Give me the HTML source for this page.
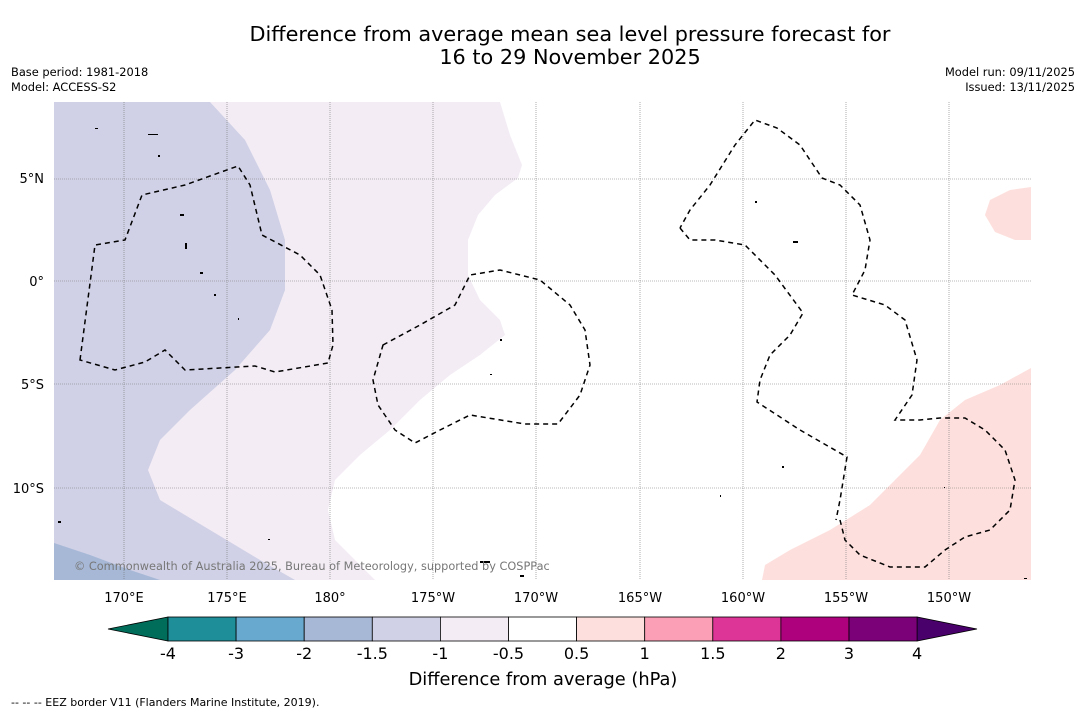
<!DOCTYPE html>
<html><head><meta charset="utf-8"><style>
body{margin:0;background:#fff;font-family:"Liberation Sans","DejaVu Sans",sans-serif;}
svg text{font-family:"DejaVu Sans","Liberation Sans",sans-serif;}
</style></head><body>
<svg width="1085" height="713" viewBox="0 0 1085 713">
<rect width="1085" height="713" fill="#fff"/>
<text x="570" y="41" font-size="20.8" text-anchor="middle">Difference from average mean sea level pressure forecast for</text>
<text x="570" y="64" font-size="20.8" text-anchor="middle">16 to 29 November 2025</text>
<text x="11" y="76" font-size="11.4">Base period: 1981-2018</text>
<text x="11" y="91" font-size="11.4">Model: ACCESS-S2</text>
<text x="1075" y="76" font-size="11.4" text-anchor="end">Model run: 09/11/2025</text>
<text x="1075" y="91" font-size="11.4" text-anchor="end">Issued: 13/11/2025</text>
<g>
<clipPath id="mc"><rect x="54" y="102" width="977" height="478"/></clipPath>
<g clip-path="url(#mc)">
<rect x="54" y="102" width="977" height="478" fill="#fff"/>
<path fill="#f3ecf5" d="M54,102 L500,102 L510,135 L522,165 L518,178 L495,195 L478,215 L468,240 L468,275 L480,300 L500,320 L505,335 L480,355 L450,375 L420,400 L390,430 L360,455 L335,480 L328,510 L335,540 L360,565 L375,580 L54,580Z"/>
<path fill="#d0d1e6" d="M54,102 L210,102 L245,140 L270,190 L285,240 L285,290 L270,330 L235,370 L190,410 L160,440 L148,470 L160,500 L210,530 L260,560 L295,580 L54,580Z"/>
<path fill="#a6b8d6" d="M54,543 L90,555 L130,570 L160,580 L54,580Z"/>
<path fill="#fde0dd" d="M762,580 L765,565 L790,550 L830,530 L870,505 L895,480 L920,455 L940,420 L965,400 L1000,385 L1031,368 L1031,580Z"/>
<path fill="#fde0dd" d="M1031,187 L1010,190 L990,200 L985,215 L995,232 L1015,240 L1031,240Z"/>
<g stroke="#777" stroke-width="0.6" stroke-dasharray="1,1">
<line x1="124" y1="102" x2="124" y2="580"/><line x1="227" y1="102" x2="227" y2="580"/><line x1="330" y1="102" x2="330" y2="580"/><line x1="433" y1="102" x2="433" y2="580"/><line x1="536" y1="102" x2="536" y2="580"/><line x1="640" y1="102" x2="640" y2="580"/><line x1="743" y1="102" x2="743" y2="580"/><line x1="846" y1="102" x2="846" y2="580"/><line x1="949" y1="102" x2="949" y2="580"/>
<line x1="54" y1="179" x2="1031" y2="179"/><line x1="54" y1="281" x2="1031" y2="281"/><line x1="54" y1="384" x2="1031" y2="384"/><line x1="54" y1="488" x2="1031" y2="488"/>
</g>
<g fill="none" stroke="#000" stroke-width="1.5" stroke-dasharray="5,4">
<path d="M80,360 L95,245 L125,240 L142,195 L185,185 L238,166 L250,185 L262,235 L300,255 L320,275 L332,310 L333,345 L328,363 L275,372 L255,366 L185,370 L165,350 L145,362 L115,370 Z"/>
<path d="M383,345 L420,325 L455,305 L470,275 L500,270 L540,280 L570,305 L585,330 L590,365 L580,395 L558,424 L525,424 L470,415 L440,430 L415,443 L395,430 L378,405 L373,380 Z"/>
<path d="M680,228 L690,240 L715,240 L745,245 L775,275 L803,313 L790,335 L770,355 L760,380 L757,402 L800,430 L847,457 L840,500 L836,520"/>
<path d="M840,520 L845,540 L860,555 L890,567 L925,567 L945,550 L965,537 L990,530 L1010,510 L1015,480 L1005,450 L985,430 L965,418 L940,418 L920,420 L895,420 L912,395 L917,360 L905,320 L885,305 L852,295 L865,270 L870,240 L860,205 L840,185 L822,178 L800,145 L777,128 L755,120 L735,145 L710,185 L690,210 L680,228"/>
</g>
<g fill="#000">
<rect x="95" y="128" width="3" height="1"/><rect x="148" y="134" width="10" height="1"/><rect x="158" y="155" width="2" height="2"/><rect x="180" y="214" width="4" height="2"/><rect x="185" y="243" width="2" height="6"/><rect x="200" y="272" width="3" height="2"/><rect x="214" y="294" width="2" height="2"/><rect x="238" y="318" width="1" height="2"/><rect x="755" y="201" width="2" height="2"/><rect x="793" y="241" width="5" height="2"/><rect x="500" y="339" width="2" height="2"/><rect x="490" y="374" width="2" height="1"/><rect x="720" y="495" width="1" height="2"/><rect x="782" y="466" width="2" height="2"/><rect x="58" y="521" width="3" height="2"/><rect x="268" y="539" width="2" height="1"/><rect x="480" y="561" width="10" height="2"/><rect x="520" y="575" width="4" height="2"/><rect x="944" y="487" width="1" height="1"/><rect x="1024" y="578" width="3" height="1"/>
</g>
<text x="74" y="570" font-size="11.3" fill="#777">© Commonwealth of Australia 2025, Bureau of Meteorology, supported by COSPPac</text>
</g>
</g>
<g font-size="13">
<text x="44" y="183" text-anchor="end">5°N</text><text x="44" y="286" text-anchor="end">0°</text><text x="44" y="389" text-anchor="end">5°S</text><text x="44" y="493" text-anchor="end">10°S</text>
</g>
<g font-size="13" text-anchor="middle">
<text x="124" y="602">170°E</text><text x="227" y="602">175°E</text><text x="330" y="602">180°</text><text x="433" y="602">175°W</text><text x="536" y="602">170°W</text><text x="640" y="602">165°W</text><text x="743" y="602">160°W</text><text x="846" y="602">155°W</text><text x="949" y="602">150°W</text>
</g>
<g id="cbar"></g>
<text x="543" y="685" font-size="17.8" text-anchor="middle">Difference from average (hPa)</text>
<text x="11" y="706" font-size="11">--  --  -- EEZ border V11 (Flanders Marine Institute, 2019).</text>
</svg>
<script>
const bounds=["-4","-3","-2","-1.5","-1","-0.5","0.5","1","1.5","2","3","4"];
const colors=["#1e8f99","#67a9cf","#a6b8d6","#d0d1e6","#f3ecf5","#ffffff","#fde0dd","#fa9fb5","#dd3497","#ae017e","#7a0177"];
const extColors=["#006d5b","#49006a"];
const g=document.getElementById('cbar');const ns="http://www.w3.org/2000/svg";
const x0=168,w=68.1,y0=617,h=24;
function mk(t,a){const e=document.createElementNS(ns,t);for(const k in a)e.setAttribute(k,a[k]);g.appendChild(e);return e;}
let lt=mk('polygon',{points:`${x0},${y0} ${x0},${y0+h} 108,${y0+h/2}`,fill:extColors[0],stroke:'#000','stroke-width':0.8});


const xe=x0+w*colors.length;
let rt=mk('polygon',{points:`${xe},${y0} ${xe},${y0+h} 977,${y0+h/2}`,fill:extColors[1],stroke:'#000','stroke-width':0.8});


colors.forEach((c,i)=>{const r=mk('rect',{x:x0+i*w,y:y0,width:w,height:h,fill:c,stroke:'#000','stroke-width':0.8});

});
bounds.forEach((b,i)=>{const t=mk('text',{x:x0+i*w,y:659,'font-size':16,'text-anchor':'middle'});t.textContent=b;

});
</script>
</body></html>
